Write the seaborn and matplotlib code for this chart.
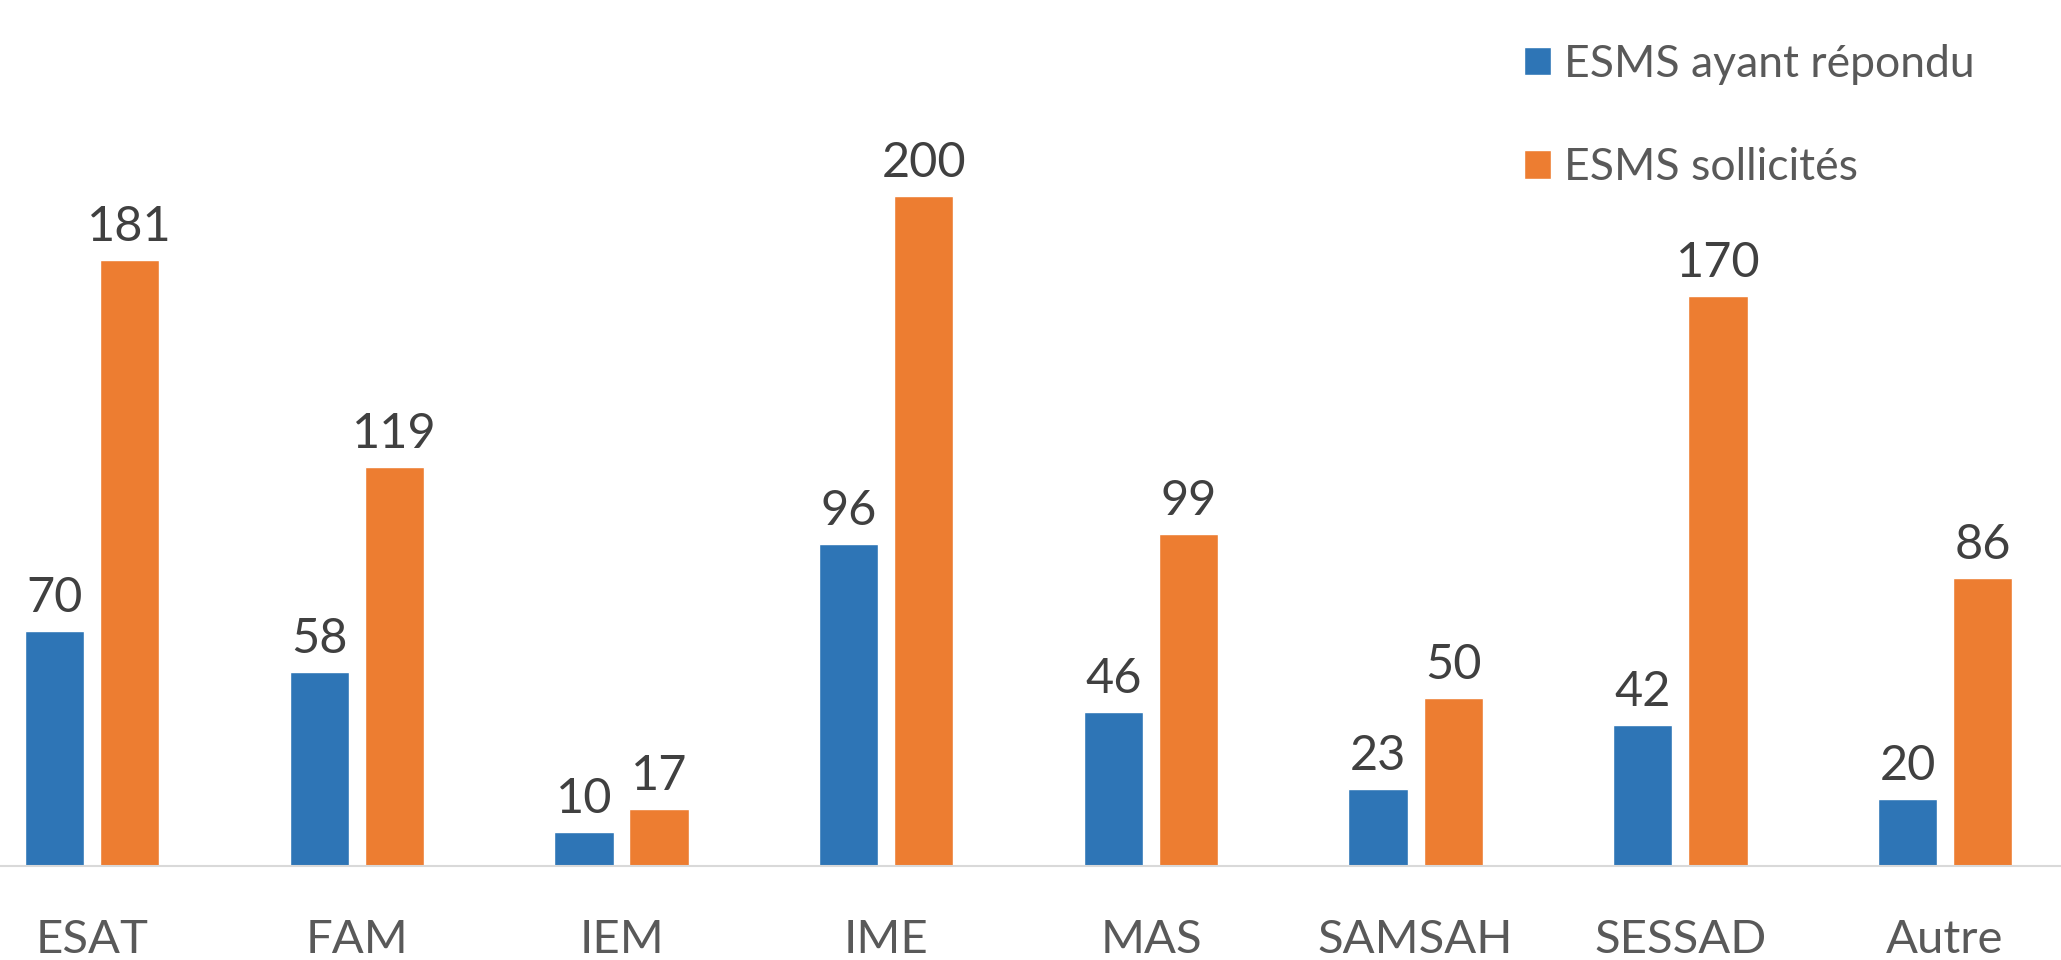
import matplotlib
matplotlib.use("Agg")
import matplotlib.pyplot as plt
import seaborn as sns
import pandas as pd

categories = ["ESAT", "FAM", "IEM", "IME", "MAS", "SAMSAH", "SESSAD", "Autre"]
repondu = [70, 58, 10, 96, 46, 23, 42, 20]
sollicites = [181, 119, 17, 200, 99, 50, 170, 86]
series_names = ["ESMS ayant répondu", "ESMS sollicités"]
colors = ["#2E75B6", "#ED7D31"]

df = pd.DataFrame({
    "categorie": categories * 2,
    "valeur": repondu + sollicites,
    "serie": [series_names[0]] * len(categories) + [series_names[1]] * len(categories),
})

sns.set_style("white")
plt.rcParams["font.family"] = ["Lato", "DejaVu Sans"]

fig = plt.figure(figsize=(20.61, 9.6), dpi=100)
ax = fig.add_axes([0, 94 / 960, 1, 866 / 960])

sns.barplot(data=df, x="categorie", y="valeur", hue="serie", order=categories,
            hue_order=series_names, palette=colors, width=0.567, gap=0.21,
            saturation=1, ax=ax)

for cont in ax.containers:
    ax.bar_label(cont, padding=8, fontsize=35, color="#404040")

ax.set_xlim(-0.348, 7.438)
ax.set_ylim(0, 258.5)
ax.set_xlabel("")
ax.set_ylabel("")
ax.set_yticks([])
ax.tick_params(axis="x", length=0, pad=38, labelsize=34, labelcolor="#595959")
for side in ["top", "right", "left"]:
    ax.spines[side].set_visible(False)
ax.spines["bottom"].set_color("#D9D9D9")
ax.spines["bottom"].set_linewidth(1.5)

handles, labels = ax.get_legend_handles_labels()
ax.get_legend().remove()
leg = fig.legend(handles, labels, loc="upper left",
                 bbox_to_anchor=(1524 / 2061, 1 - 44 / 960),
                 frameon=False, fontsize=32, handlelength=0.6, handleheight=0.6,
                 handletextpad=0.3, labelspacing=1.4, borderaxespad=0,
                 borderpad=0)
for t in leg.get_texts():
    t.set_color("#595959")

fig.savefig("out.png", dpi=100)
